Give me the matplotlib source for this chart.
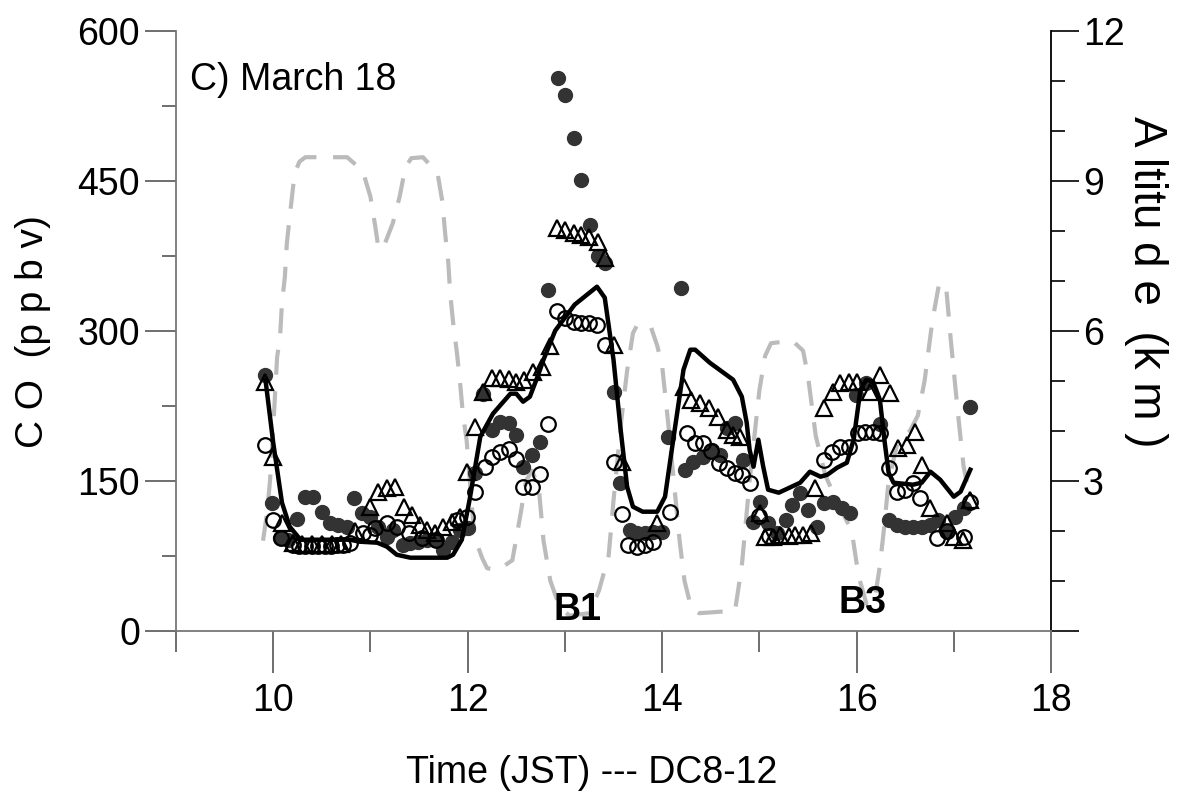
import matplotlib
matplotlib.use("Agg")
import matplotlib.pyplot as plt
from matplotlib.ticker import MultipleLocator, FixedLocator

plt.rcParams['font.family'] = ['Liberation Sans', 'DejaVu Sans']

# CO model curve (solid line), time in JST hours
line_t = [9.92, 10.0, 10.09, 10.17, 10.28, 10.79, 10.89, 11.07, 11.17, 11.27, 11.41, 11.79,
          11.85, 11.94, 12.02, 12.13, 12.26, 12.44, 12.5, 12.57, 12.64, 12.73, 12.78, 12.9,
          13.1, 13.33, 13.41, 13.5, 13.57, 13.64, 13.7, 13.8, 13.95, 14.03, 14.11, 14.22,
          14.29, 14.34, 14.49, 14.73, 14.82, 14.87, 14.9, 14.94, 14.99, 15.04, 15.09, 15.2,
          15.42, 15.52, 15.63, 15.7, 15.8, 15.9, 15.97, 16.04, 16.1, 16.17, 16.24, 16.29,
          16.33, 16.38, 16.58, 16.67, 16.76, 16.86, 17.0, 17.07, 17.17]
line_co = [251, 188, 128, 104, 91, 91, 89, 88, 84, 76, 73, 73,
           76, 91, 131, 194, 217, 237, 237, 229, 234, 257, 271, 300,
           326, 344, 333, 271, 204, 144, 124, 119, 119, 134, 188, 261,
           281, 281, 268, 251, 234, 208, 181, 164, 191, 164, 141, 138,
           148, 159, 154, 156, 163, 168, 191, 241, 251, 249, 231, 188,
           158, 148, 146, 148, 159, 151, 134, 139, 161]

# filled circles
fill_t = [9.92, 9.99, 10.07, 10.15, 10.24, 10.33, 10.41, 10.5, 10.58, 10.67, 10.76, 10.83,
          10.91, 11.0, 11.08, 11.17, 11.23, 11.33, 11.41, 11.49, 11.58, 11.66, 11.75, 11.84,
          11.92, 12.0, 12.08, 12.16, 12.25, 12.33, 12.42, 12.5, 12.57, 12.66, 12.74, 12.83,
          12.93, 13.0, 13.09, 13.17, 13.26, 13.34, 13.41, 13.5, 13.57, 13.67, 13.74, 13.82,
          13.91, 14.0, 14.06, 14.19, 14.24, 14.32, 14.42, 14.51, 14.6, 14.67, 14.75, 14.83,
          14.93, 15.01, 15.09, 15.18, 15.27, 15.34, 15.42, 15.5, 15.59, 15.66, 15.76, 15.85,
          15.93, 15.99, 16.1, 16.24, 16.33, 16.42, 16.5, 16.58, 16.67, 16.76, 16.84, 16.93,
          17.01, 17.1, 17.17]
fill_co = [256, 128, 93, 91, 112, 134, 134, 119, 108, 106, 104, 133,
           118, 114, 104, 94, 101, 86, 88, 89, 91, 91, 81, 89,
           101, 103, 158, 237, 201, 209, 208, 196, 164, 176, 189, 341,
           553, 536, 493, 451, 406, 375, 368, 239, 148, 101, 98, 98,
           99, 99, 194, 343, 161, 169, 174, 181, 176, 203, 208, 171,
           109, 129, 108, 98, 111, 126, 138, 121, 104, 128, 129, 123,
           118, 236, 248, 207, 111, 106, 104, 104, 104, 106, 111, 99,
           114, 123, 224]

# open circles
open_t = [9.92, 10.0, 10.08, 10.2, 10.27, 10.33, 10.4, 10.46, 10.53, 10.59, 10.66, 10.72,
          10.79, 10.92, 11.0, 11.05, 11.17, 11.27, 11.4, 11.53, 11.67, 11.89, 11.99, 12.08,
          12.18, 12.25, 12.33, 12.42, 12.5, 12.57, 12.66, 12.74, 12.83, 12.92, 13.0, 13.09,
          13.17, 13.25, 13.33, 13.41, 13.5, 13.59, 13.65, 13.74, 13.82, 13.91, 14.08, 14.26,
          14.34, 14.42, 14.5, 14.58, 14.67, 14.75, 14.82, 14.9, 15.0, 15.1, 15.66, 15.75,
          15.83, 15.92, 16.01, 16.09, 16.17, 16.24, 16.33, 16.42, 16.5, 16.58, 16.65, 16.83,
          16.93, 17.1, 17.17]
open_co = [186, 111, 93, 86, 85, 85, 85, 85, 85, 85, 86, 86,
           88, 98, 96, 103, 108, 104, 98, 93, 91, 111, 114, 139,
           164, 174, 179, 182, 172, 144, 144, 157, 207, 320, 313, 309,
           308, 308, 306, 286, 169, 117, 86, 84, 86, 89, 119, 198,
           188, 188, 180, 168, 163, 158, 156, 148, 115, 95, 171, 179,
           184, 184, 198, 199, 199, 198, 163, 139, 141, 148, 133, 93,
           100, 94, 129]

# open triangles
tri_t = [9.92, 10.0, 10.09, 10.2, 10.3, 10.4, 10.5, 10.6, 10.7, 10.84, 11.0, 11.08,
         11.17, 11.25, 11.34, 11.43, 11.51, 11.58, 11.66, 11.75, 11.84, 11.92, 11.99, 12.08,
         12.16, 12.25, 12.33, 12.42, 12.5, 12.58, 12.67, 12.76, 12.85, 12.92, 13.0, 13.09,
         13.17, 13.25, 13.34, 13.41, 13.5, 13.59, 13.95, 14.22, 14.3, 14.39, 14.48, 14.57,
         14.67, 14.73, 14.8, 15.01, 15.06, 15.14, 15.21, 15.3, 15.37, 15.45, 15.53, 15.57,
         15.66, 15.76, 15.83, 15.92, 16.0, 16.14, 16.24, 16.34, 16.43, 16.52, 16.6, 16.67,
         16.76, 16.93, 17.0, 17.09, 17.17]
tri_co = [249, 174, 108, 88, 87, 87, 87, 87, 87, 100, 124, 139,
          143, 144, 124, 116, 106, 101, 98, 104, 109, 114, 159, 204,
          239, 253, 253, 252, 249, 251, 259, 264, 285, 403, 401, 398,
          396, 394, 389, 373, 286, 169, 108, 244, 231, 228, 223, 214,
          201, 196, 194, 118, 94, 94, 96, 95, 96, 96, 98, 143,
          223, 239, 248, 249, 249, 239, 256, 238, 183, 186, 199, 166,
          123, 108, 94, 91, 131]

# flight altitude (km), right axis
alt_t = [9.895, 9.936, 9.967, 9.998, 10.04, 10.07, 10.09, 10.12, 10.14, 10.17, 10.22, 10.27,
         10.33, 10.76, 10.92, 11.0, 11.05, 11.08, 11.11, 11.14, 11.23, 11.3, 11.36, 11.42,
         11.54, 11.69, 11.74, 11.77, 11.8, 11.82, 11.85, 11.89, 11.92, 11.95, 11.99, 12.03,
         12.07, 12.15, 12.2, 12.31, 12.46, 12.55, 12.6, 12.66, 12.73, 12.78, 12.85, 12.95,
         13.05, 13.25, 13.35, 13.45, 13.5, 13.58, 13.64, 13.7, 13.74, 13.88, 13.95, 14.0,
         14.06, 14.12, 14.18, 14.23, 14.3, 14.38, 14.75, 14.82, 14.9, 15.0, 15.06, 15.12,
         15.34, 15.45, 15.5, 15.58, 15.68, 15.82, 15.95, 16.02, 16.1, 16.18, 16.24, 16.28,
         16.33, 16.42, 16.55, 16.63, 16.7, 16.78, 16.85, 16.92, 16.97, 17.04, 17.1, 17.15]
alt_km = [1.8, 2.35, 3.0, 4.0, 5.47, 5.87, 6.55, 7.08, 7.75, 8.28, 9.15, 9.38,
          9.47, 9.47, 9.2, 8.68, 8.08, 7.68, 7.62, 7.7, 8.15, 8.68, 9.27, 9.45,
          9.47, 9.15, 8.58, 7.91, 7.38, 6.75, 6.17, 5.55, 5.0, 4.35, 3.8, 2.8,
          1.87, 1.45, 1.25, 1.21, 1.41, 2.4, 3.0, 3.2, 2.9, 1.8, 1.0, 0.45,
          0.3, 0.35, 0.8, 1.5, 2.6, 4.2, 5.2, 5.95, 6.1, 6.1, 5.7, 5.3,
          4.2, 3.0, 1.8, 1.0, 0.45, 0.35, 0.4, 1.3, 3.0, 4.8, 5.5, 5.75,
          5.8, 5.6, 5.1, 3.9, 3.1, 2.5, 2.0, 1.1, 0.55, 0.55, 1.3, 2.0,
          3.0, 3.75, 4.0, 4.3, 5.0, 6.2, 6.95, 6.9, 5.8, 4.4, 3.3, 2.8]

co_ticks = [0, 150, 300, 450, 600]
alt_ticks = [3, 6, 9, 12]
time_ticks = [10, 12, 14, 16, 18]

fig = plt.figure(figsize=(11.77, 7.95), dpi=100)
ax = fig.add_axes([176 / 1177, 164.3 / 795, 875 / 1177, 600 / 795])
ax2 = ax.twinx()
ax.set_zorder(ax2.get_zorder() + 1)
ax.patch.set_visible(False)

ax2.plot(alt_t, alt_km, color='#bbbbbb', lw=3.0, dashes=(6, 4), solid_capstyle='butt')
ax2.set_ylim(0, 12)

ax.plot(fill_t, fill_co, 'o', color='#333333', ms=10, mec='#333333', zorder=3)
ax.plot(open_t, open_co, 'o', mfc='none', mec='black', ms=10.5, mew=1.6, zorder=4)
ax.plot(tri_t, tri_co, '^', mfc='none', mec='black', ms=11, mew=1.6, zorder=5)
ax.plot(line_t, line_co, color='black', lw=3.2, zorder=6)

ax.set_xlim(9, 18)
ax.set_ylim(0, 600)
ax.xaxis.set_major_locator(FixedLocator(time_ticks))
ax.xaxis.set_minor_locator(FixedLocator([9, 11, 13, 15, 17]))
ax.yaxis.set_major_locator(FixedLocator(co_ticks))
ax.yaxis.set_minor_locator(MultipleLocator(75))
ax2.yaxis.set_major_locator(FixedLocator([0] + alt_ticks))
ax2.yaxis.set_minor_locator(MultipleLocator(1))
ax2.set_yticklabels([''] + [str(v) for v in alt_ticks])

ax.tick_params(axis='x', which='major', length=30, width=1.2, color='#555555', labelsize=27, pad=8)
ax.tick_params(axis='x', which='minor', length=15, width=1.2, color='#555555')
ax.tick_params(axis='y', which='major', length=22, width=1.2, color='#555555', labelsize=27, pad=4)
ax.tick_params(axis='y', which='minor', length=10, width=1.2, color='#555555')
ax2.tick_params(axis='y', which='major', length=20, width=1.2, labelsize=27, pad=3)
ax2.tick_params(axis='y', which='minor', length=10, width=1.2)

for s in ['top', 'right']:
    ax.spines[s].set_visible(False)
for s in ['top', 'left', 'bottom']:
    ax2.spines[s].set_visible(False)
ax.spines['left'].set_color('#777777')
ax.spines['bottom'].set_color('#777777')
ax.spines['left'].set_linewidth(1.3)
ax.spines['bottom'].set_linewidth(1.3)
ax2.spines['right'].set_linewidth(1.3)

ax.set_xlabel('Time (JST) --- DC8-12', fontsize=27, va='center')
ax.xaxis.set_label_coords(0.475, -0.237)
ax.set_ylabel('C O  (p p b v)', fontsize=28, va='center')
ax.yaxis.set_label_coords(-0.163, 0.498)
ax2.set_ylabel('A ltitu d e  (k m )', fontsize=33, rotation=-90, va='center')
ax2.yaxis.set_label_coords(1.108, 0.581)

ax.text(0.016, 0.918, 'C) March 18', transform=ax.transAxes, fontsize=27, va='center', ha='left')
ax.text(13.13, 21, 'B1', fontsize=27, fontweight='bold', ha='center', va='center', zorder=7)
ax.text(16.06, 28, 'B3', fontsize=27, fontweight='bold', ha='center', va='center', zorder=7)

fig.savefig('out.png', dpi=100)
